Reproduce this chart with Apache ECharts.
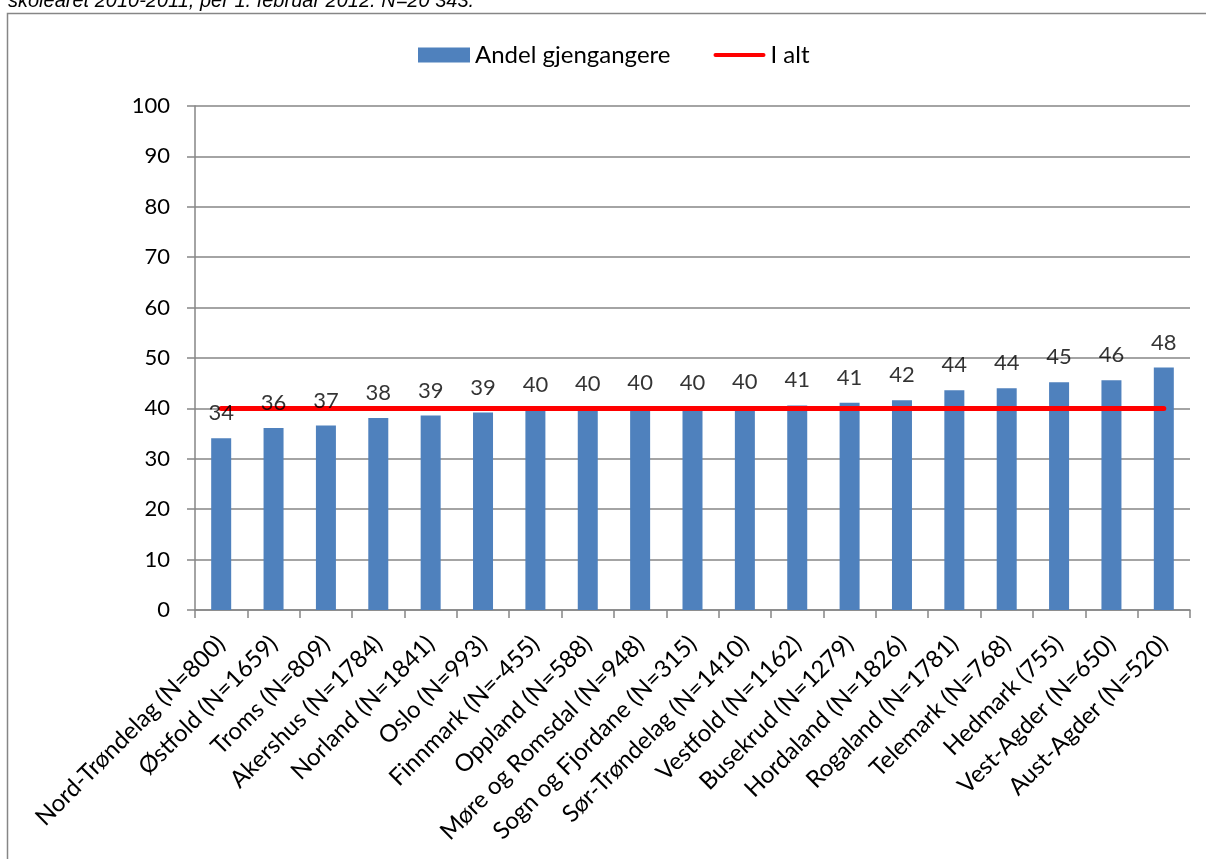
<!DOCTYPE html>
<html>
<head>
<meta charset="utf-8">
<script src="https://cdn.jsdelivr.net/npm/echarts@6/dist/echarts.min.js"></script>
<style>
html,body{margin:0;padding:0;background:#fff;}
#c{width:1206px;height:859px;}
</style>
</head>
<body>
<div id="c"></div>
<script>
const categories = [
  "Nord-Trøndelag (N=800)", "Østfold (N=1659)", "Troms (N=809)", "Akershus (N=1784)",
  "Norland (N=1841)", "Oslo (N=993)", "Finnmark (N=-455)", "Oppland (N=588)",
  "Møre og Romsdal (N=948)", "Sogn og Fjordane (N=315)", "Sør-Trøndelag (N=1410)",
  "Vestfold (N=1162)", "Busekrud (N=1279)", "Hordaland (N=1826)", "Rogaland (N=1781)",
  "Telemark (N=768)", "Hedmark (755)", "Vest-Agder (N=650)", "Aust-Agder (N=520)"
];
const andelGjengangere = [34.1, 36.1, 36.6, 38.1, 38.6, 39.2, 39.8, 39.9, 40.0, 40.1, 40.2, 40.6, 41.1, 41.6, 43.6, 44.0, 45.2, 45.6, 48.1];
const iAlt = [40, 40, 40, 40, 40, 40, 40, 40, 40, 40, 40, 40, 40, 40, 40, 40, 40, 40, 40];
const yTicks = {min: 0, max: 100, interval: 10};
const titleText = "skoleåret 2010-2011, per 1. februar 2012. N=20 343.";

const FONT = 'Lato';
const GRAY = '#868686';
const chart = echarts.init(document.getElementById('c'), null, {renderer: 'canvas'});
chart.setOption({
  backgroundColor: '#fff',
  animation: false,
  graphic: [
    {type: 'rect', shape: {x: 7.5, y: 13.5, width: 1210, height: 870},
     style: {fill: 'none', stroke: GRAY, lineWidth: 1.5}, silent: true},
    {type: 'text', x: 8, y: 1.5, silent: true,
     style: {text: titleText, fontSize: 20, fontFamily: 'Liberation Sans', fontStyle: 'italic',
             fill: '#000', verticalAlign: 'middle', align: 'left'}}
  ],
  legend: {
    top: 38, left: 413,
    itemWidth: 52, itemHeight: 15, itemGap: 43,
    textStyle: {fontFamily: FONT, fontSize: 24, color: '#000'},
    data: [
      {name: 'Andel gjengangere', icon: 'rect'},
      {name: 'I alt', icon: 'path://M2,0 L50,0 A2,2 0 0 1 50,4 L2,4 A2,2 0 0 1 2,0 Z'}
    ]
  },
  grid: {left: 195, right: 16, top: 106, bottom: 249, containLabel: false},
  xAxis: {
    type: 'category', data: categories, boundaryGap: true,
    axisLine: {lineStyle: {color: GRAY, width: 1.5}},
    axisTick: {show: true, length: 8, lineStyle: {color: GRAY, width: 1.5}},
    axisLabel: {rotate: 45, interval: 0, margin: 30, fontFamily: FONT, fontSize: 24, color: '#000'}
  },
  yAxis: {
    type: 'value', min: yTicks.min, max: yTicks.max, interval: yTicks.interval,
    axisLine: {show: true, lineStyle: {color: GRAY, width: 1.5}},
    axisTick: {show: true, length: 8, lineStyle: {color: GRAY, width: 1.5}},
    splitLine: {show: true, lineStyle: {color: GRAY, width: 1.5}},
    axisLabel: {margin: 25, fontFamily: FONT, fontSize: 22, color: '#000'}
  },
  series: [
    {
      name: 'Andel gjengangere', type: 'bar', data: andelGjengangere, barWidth: 20,
      itemStyle: {color: '#4F81BD'}, z: 2
    },
    {
      name: 'I alt', type: 'line', data: iAlt, symbol: 'none', showSymbol: false,
      lineStyle: {color: '#FF0000', width: 5, cap: 'round'}, itemStyle: {color: '#FF0000'}, z: 3
    },
    {
      name: 'labels', type: 'scatter', data: andelGjengangere, symbolSize: 0, silent: true, z: 10,
      label: {show: true, position: 'top', distance: 14, fontFamily: FONT, fontSize: 22, color: '#000',
              formatter: p => Math.round(p.value)}
    }
  ]
});
</script>
</body>
</html>
